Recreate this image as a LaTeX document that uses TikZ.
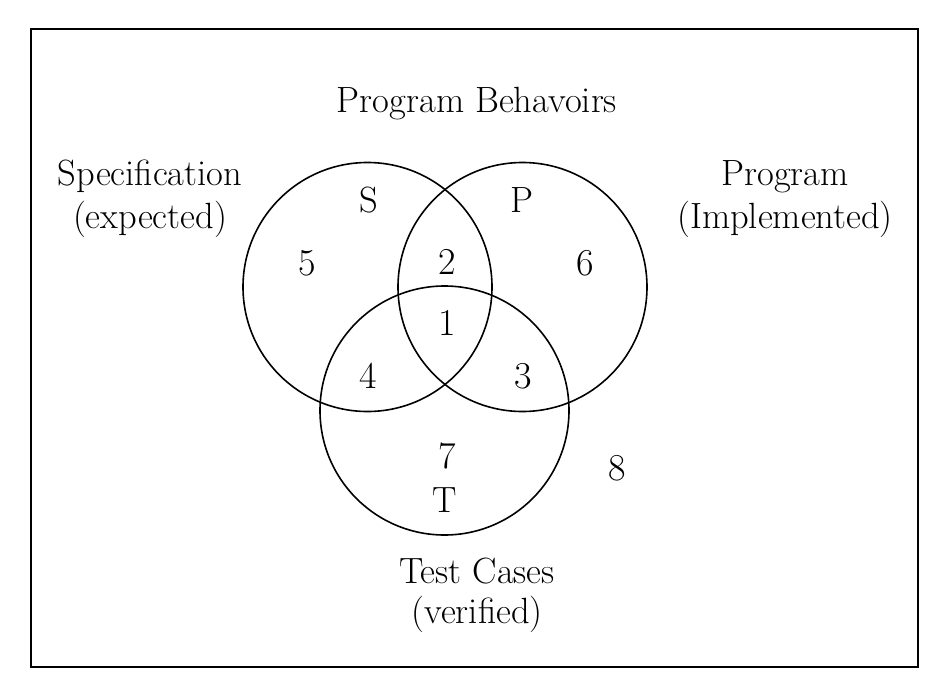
\documentclass[tikz,border=0pt]{standalone}
\usepackage{tikz}
\usetikzlibrary{positioning}

\begin{document}
\begin{tikzpicture}[
  x=1pt, y=-1pt,
  font=\fontsize{36.5}{44}\selectfont,
  frame/.style={draw, line width=1.6pt, inner sep=0pt},
  vset/.style={draw, circle, line width=1.6pt, minimum size=249pt, inner sep=0pt},
  region/.style={anchor=base, inner sep=0pt, font=\fontsize{38}{44}\selectfont},
  caption/.style={anchor=base, inner sep=0pt}
]
\useasboundingbox (0,0) rectangle (948,680);

% outer box: all program behaviours
\node[frame, minimum width=887pt, minimum height=638pt] (box) at (474.5,348) {};

% the three sets
\node[vset] (S) at (367.5,287) {};
\node[vset] (P) at (522.5,287) {};
\node[vset] (T) at (444.5,410.5) {};

% captions
\node[caption] (title) at (477,112) {Program Behavoirs};
\node[caption] (spec)  at (150,185) {Specification};
\node[caption] (specx) at (150,228) {(expected)};
\node[caption] (prog)  at (785,185) {Program};
\node[caption] (progx) at (785,228) {(Implemented)};
\node[caption] (test)  at (477,583) {Test Cases};
\node[caption] (testx) at (477,623) {(verified)};

% set letters
\node[caption] (Sname) at (369,212) {S};
\node[caption] (Pname) at (522,212) {P};
\node[caption] (Tname) at (445,512) {T};

% region numbers
\node[region] (r1) at (447,335) {1};
\node[region] (r2) at (447,274) {2};
\node[region] (r3) at (523,388) {3};
\node[region] (r4) at (368,388) {4};
\node[region] (r5) at (307,275) {5};
\node[region] (r6) at (585,275) {6};
\node[region] (r7) at (447,468) {7};
\node[region] (r8) at (617,480) {8};

\end{tikzpicture}
\end{document}
